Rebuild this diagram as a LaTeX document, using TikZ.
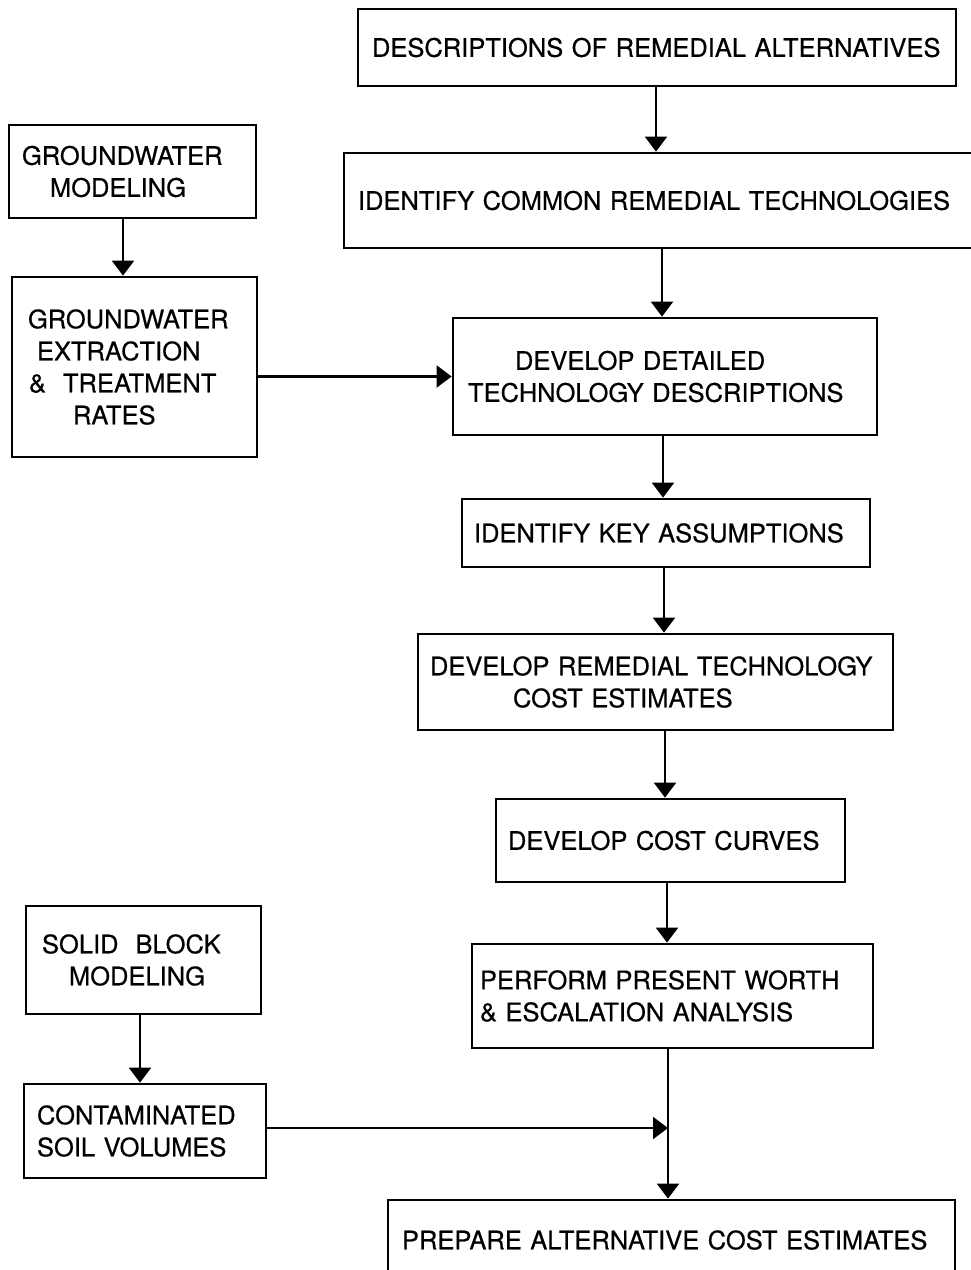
\documentclass[tikz,border=0pt]{standalone}
\usepackage{fontspec}
\setmainfont{TeX Gyre Heros}[FakeBold=0.5]
\usepackage{tikz}
\usetikzlibrary{positioning, shapes, arrows.meta}
\newcommand{\flowfont}{\fontsize{25.5}{32}\selectfont}

\begin{document}
\begin{tikzpicture}[x=1pt, y=-1pt]
\tikzset{block/.style={draw, line width=2.7pt, align=left, inner ysep=0pt, font=\flowfont},
         arr/.style={line width=2.1pt, -{Triangle[width=22pt, length=15pt]}} }
\useasboundingbox (0,0) rectangle (971,1270);
\clip (0,0) rectangle (971,1270);
\node[block, text width=570pt, inner xsep=14pt, minimum height=77pt] (desc) at (657,47.5) {DESCRIPTIONS OF REMEDIAL ALTERNATIVES};
\node[block, text width=618pt, inner xsep=14pt, minimum height=95pt] (common) at (667,200.5) {IDENTIFY COMMON REMEDIAL TECHNOLOGIES};
\node[block, text width=221pt, inner xsep=13pt, minimum height=93pt] (gwmodel) at (132.5,171.5) {GROUNDWATER\\\hspace*{28pt}MODELING};
\node[block, text width=213pt, inner xsep=16pt, minimum height=180pt] (extract) at (134.5,367) {GROUNDWATER\\\hspace*{9pt}EXTRACTION\\\hspace*{1pt}\&~~TREATMENT\\\hspace*{45pt}RATES};
\node[block, text width=394pt, inner xsep=15pt, minimum height=117pt] (detail) at (665,376.5) {\hspace*{47pt}DEVELOP DETAILED\\TECHNOLOGY DESCRIPTIONS};
\node[block, text width=384pt, inner xsep=12pt, minimum height=68pt] (keyass) at (666,533) {IDENTIFY KEY ASSUMPTIONS};
\node[block, text width=451pt, inner xsep=12pt, minimum height=96pt] (remcost) at (655.5,682) {DEVELOP REMEDIAL TECHNOLOGY\\\hspace*{83pt}COST ESTIMATES};
\node[block, text width=325pt, inner xsep=12pt, minimum height=83pt] (curves) at (670.5,840.5) {DEVELOP COST CURVES};
\node[block, text width=385pt, inner xsep=8pt, minimum height=104pt] (perform) at (672.5,996) {PERFORM PRESENT WORTH\\\& ESCALATION ANALYSIS};
\node[block, text width=203pt, inner xsep=16pt, minimum height=108pt] (solid) at (143.5,960) {SOLID~~BLOCK\\\hspace*{27pt}MODELING};
\node[block, text width=216pt, inner xsep=13pt, minimum height=94pt] (contam) at (145,1131) {CONTAMINATED\\SOIL VOLUMES};
\node[block, text width=539pt, inner xsep=14pt, minimum height=80pt] (prepare) at (671.5,1240) {PREPARE ALTERNATIVE COST ESTIMATES};
\coordinate (spine) at ([xshift=-4.5pt]perform.south);
\draw[arr] ([xshift=-1pt]desc.south) -- ([xshift=-1pt]desc.south |- common.north);
\draw[arr] ([xshift=-3pt]detail.north |- common.south) -- ([xshift=-3pt]detail.north);
\draw[arr] ([xshift=-2pt]detail.south) -- ([xshift=-2pt]detail.south |- keyass.north);
\draw[arr] ([xshift=-2pt]keyass.south) -- ([xshift=-2pt]keyass.south |- remcost.north);
\draw[arr] ([xshift=-5.5pt]curves.north |- remcost.south) -- ([xshift=-5.5pt]curves.north);
\draw[arr] ([xshift=-3.5pt]curves.south) -- ([xshift=-3.5pt]curves.south |- perform.north);
\draw[arr] (spine) -- (spine |- prepare.north);
\draw[arr] ([xshift=-9.5pt]gwmodel.south) -- ([xshift=-9.5pt]gwmodel.south |- extract.north);
\draw[arr] ([xshift=-3.5pt]solid.south) -- ([xshift=-3.5pt]solid.south |- contam.north);
\draw[arr] (extract.east |- detail.west) -- (detail.west);
\draw[arr] ([yshift=3pt]contam.east) -- ([yshift=3pt]contam.east -| spine);
\end{tikzpicture}
\end{document}
